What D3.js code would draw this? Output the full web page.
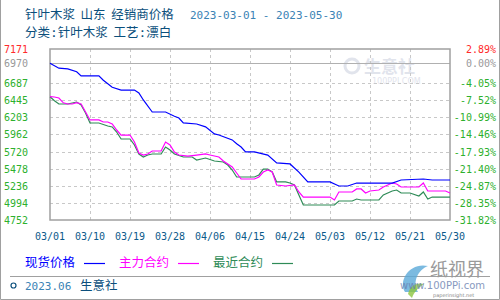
<!DOCTYPE html>
<html>
<head>
<meta charset="utf-8">
<script src="https://cdn.jsdelivr.net/npm/d3@7/dist/d3.min.js"></script>
<style>
  body { margin: 0; background: #fff; }
  svg { display: block; }
  text { white-space: pre; }
</style>
</head>
<body>
<div id="chart"></div>
<script>
// ---- data ----
const startDate = '2023-03-01';
const endDate = '2023-05-30';

const xTickLabels = ['03/01', '03/10', '03/19', '03/28', '04/06', '04/15', '04/24', '05/03', '05/12', '05/21', '05/30'];
const leftTicks = [4752, 4994, 5236, 5478, 5720, 5962, 6203, 6445, 6687, 6970, 7171];
const rightTickLabels = ['-31.82%', '-28.35%', '-24.87%', '-21.40%', '-17.93%', '-14.46%', '-10.99%', '-7.52%', '-4.05%', '0.00%', '2.89%'];

// 现货价格
const spotDates = ['03-01', '03-03', '03-05', '03-07', '03-08', '03-12', '03-13', '03-15', '03-17', '03-20',
  '03-21', '03-22', '03-24', '03-27', '03-29', '03-30', '03-31', '04-03', '04-05', '04-07', '04-08', '04-11',
  '04-12', '04-13', '04-14', '04-16', '04-19', '04-21', '04-24', '04-26', '04-28', '05-03', '05-05', '05-07',
  '05-09', '05-17', '05-19', '05-24', '05-26', '05-30'];
const spotValues = [6970, 6900, 6890, 6850, 6790, 6790, 6730, 6630, 6590, 6590,
  6550, 6450, 6280, 6280, 6220, 6195, 6125, 6110, 6070, 5970, 5955, 5885,
  5830, 5785, 5715, 5715, 5670, 5560, 5545, 5430, 5290, 5290, 5233, 5233,
  5275, 5275, 5318, 5332, 5318, 5318];

// 主力合约
const mainDates = ['03-01', '03-02', '03-03', '03-04', '03-05', '03-06', '03-07', '03-08', '03-09', '03-10',
  '03-12', '03-13', '03-14', '03-15', '03-16', '03-17', '03-19', '03-20', '03-21', '03-22', '03-23', '03-24',
  '03-26', '03-27', '03-28', '03-29', '03-30', '04-01', '04-03', '04-05', '04-06', '04-08', '04-09', '04-11',
  '04-12', '04-13', '04-16', '04-17', '04-18', '04-19', '04-20', '04-21', '04-23', '04-25', '04-26', '04-27',
  '04-28', '05-03', '05-04', '05-05', '05-08', '05-09', '05-10', '05-11', '05-12', '05-14', '05-15', '05-16',
  '05-17', '05-18', '05-19', '05-23', '05-24', '05-25', '05-29', '05-30'];
const mainValues = [6496, 6492, 6478, 6410, 6393, 6393, 6411, 6393, 6280, 6167,
  6167, 6138, 6138, 6110, 6025, 5954, 5954, 5855, 5700, 5671, 5686, 5728,
  5728, 5855, 5813, 5714, 5671, 5657, 5671, 5686, 5671, 5643, 5587, 5502,
  5417, 5332, 5332, 5360, 5431, 5459, 5431, 5247, 5233, 5247, 5148, 5077,
  5077, 5077, 5035, 5148, 5148, 5191, 5191, 5134, 5162, 5176, 5219, 5247,
  5275, 5261, 5219, 5219, 5275, 5162, 5162, 5134];

// 最近合约
const nearDates = ['03-01', '03-02', '03-03', '03-05', '03-06', '03-07', '03-08', '03-09', '03-10', '03-12',
  '03-14', '03-15', '03-16', '03-17', '03-19', '03-20', '03-21', '03-22', '03-23', '03-24', '03-26', '03-27',
  '03-28', '03-29', '03-31', '04-02', '04-03', '04-05', '04-07', '04-09', '04-10', '04-11', '04-12', '04-13',
  '04-16', '04-17', '04-18', '04-19', '04-20', '04-21', '04-23', '04-24', '04-25', '04-26', '04-27', '05-04',
  '05-05', '05-08', '05-09', '05-10', '05-14', '05-15', '05-17', '05-18', '05-19', '05-21', '05-23', '05-24',
  '05-25', '05-26', '05-30'];
const nearValues = [6496, 6440, 6393, 6393, 6407, 6421, 6379, 6266, 6124, 6124,
  6082, 6068, 5997, 5898, 5898, 5813, 5686, 5643, 5671, 5686, 5686, 5785,
  5742, 5686, 5643, 5643, 5601, 5629, 5587, 5573, 5530, 5459, 5360, 5360,
  5360, 5389, 5473, 5473, 5431, 5290, 5290, 5275, 5247, 5106, 4964, 4964,
  5021, 5021, 5049, 5035, 5035, 5106, 5162, 5176, 5134, 5134, 5092, 5148,
  5049, 5077, 5077];

// ---- layout ----
const width = 500, height = 300;
const plot = {left: 50, right: 450, top: 49, bottom: 220};
const monoFont = '"DejaVu Sans Mono", "Liberation Mono", monospace';
const cjkFont = '"Noto Sans CJK SC", sans-serif';

const parse = d3.timeParse('%Y-%m-%d');
const toPoints = (dates, values) => dates.map((d, i) => ({date: parse('2023-' + d), value: values[i]}));

const series = [
  {name: '现货价格', color: '#0000ff', data: toPoints(spotDates, spotValues)},
  {name: '主力合约', color: '#ff00ff', data: toPoints(mainDates, mainValues)},
  {name: '最近合约', color: '#2e8b57', data: toPoints(nearDates, nearValues)}
];

const x = d3.scaleTime()
  .domain([parse(startDate), parse(endDate)])
  .range([plot.left, plot.right]);
const y = d3.scaleLinear()
  .domain([leftTicks[0], leftTicks[leftTicks.length - 1]])
  .range([plot.bottom, plot.top]);

const svg = d3.select('#chart').append('svg')
  .attr('width', width)
  .attr('height', height);

// outer frame
svg.append('path')
  .attr('d', `M0.5,0 V${height - 0.5} H${width - 0.5} V0`)
  .attr('fill', 'none')
  .attr('stroke', '#a0a0a0');

// title
svg.append('text')
  .attr('x', 25).attr('y', 19)
  .attr('font-family', cjkFont).attr('font-size', 12.5)
  .attr('fill', '#0b4f7c')
  .text('针叶木浆  山东  经销商价格');
svg.append('text')
  .attr('x', 190).attr('y', 19)
  .attr('font-family', monoFont).attr('font-size', 11)
  .attr('fill', '#3b83b5')
  .text('2023-03-01 - 2023-05-30');

// subtitle, colons in mono font to keep the wider spacing
const sub = svg.append('text')
  .attr('x', 25).attr('y', 37)
  .attr('font-family', cjkFont).attr('font-size', 12.5)
  .attr('fill', '#0b4f7c');
[['分类', false], [':', true], ['针叶木浆  工艺', false], [':', true], ['漂白', false]].forEach(([t, mono]) => {
  const s = sub.append('tspan').text(t);
  if (mono) s.attr('font-family', monoFont).attr('font-size', 13);
});

// watermark
const wm = svg.append('g').attr('opacity', 0.55);
wm.append('circle').attr('cx', 352).attr('cy', 66).attr('r', 7)
  .attr('fill', 'none').attr('stroke', '#c9cede').attr('stroke-width', 3);
wm.append('text')
  .attr('x', 364).attr('y', 73)
  .attr('font-family', cjkFont).attr('font-size', 17).attr('font-weight', 'bold')
  .attr('fill', '#c9cede')
  .text('生意社');
wm.append('text')
  .attr('x', 372).attr('y', 84)
  .attr('font-family', '"DejaVu Sans", sans-serif').attr('font-size', 8)
  .attr('fill', '#c9cede')
  .text('100PPI.COM');

// gridlines
const xTickDates = xTickLabels.map(l => parse('2023-' + l.replace('/', '-')));
svg.append('g')
  .selectAll('line')
  .data(xTickDates.slice(1, -1))
  .join('line')
  .attr('x1', d => Math.round(x(d)) + 0.5).attr('x2', d => Math.round(x(d)) + 0.5)
  .attr('y1', plot.top).attr('y2', plot.bottom)
  .attr('stroke', '#c8c8c8').attr('stroke-dasharray', '3,3');

svg.append('g')
  .selectAll('line')
  .data(leftTicks.slice(1, -1))
  .join('line')
  .attr('x1', plot.left).attr('x2', plot.right)
  .attr('y1', d => Math.round(y(d)) + 0.5).attr('y2', d => Math.round(y(d)) + 0.5)
  .attr('stroke', d => d === 6970 ? '#b0b0b0' : '#c8c8c8')
  .attr('stroke-dasharray', d => d === 6970 ? null : '3,3');

// plot frame
svg.append('rect')
  .attr('x', plot.left).attr('y', plot.top)
  .attr('width', plot.right - plot.left).attr('height', plot.bottom - plot.top)
  .attr('fill', 'none').attr('stroke', '#a0a0a0').attr('stroke-width', 1.5);

// axes labels
const tickColor = v => v === 7171 ? '#ff2a2a' : (v === 6970 ? '#999999' : '#2db02d');

svg.append('g')
  .selectAll('text')
  .data(leftTicks)
  .join('text')
  .attr('x', 28).attr('y', d => y(d) + 4)
  .attr('text-anchor', 'end')
  .attr('font-family', monoFont).attr('font-size', 10)
  .attr('fill', d => tickColor(d))
  .text(d => d);

svg.append('g')
  .selectAll('text')
  .data(leftTicks)
  .join('text')
  .attr('x', 496).attr('y', d => y(d) + 4)
  .attr('text-anchor', 'end')
  .attr('font-family', monoFont).attr('font-size', 10)
  .attr('fill', d => tickColor(d))
  .text((d, i) => rightTickLabels[i]);

svg.append('g')
  .selectAll('text')
  .data(xTickDates)
  .join('text')
  .attr('x', d => x(d)).attr('y', 240)
  .attr('text-anchor', 'middle')
  .attr('font-family', monoFont).attr('font-size', 10)
  .attr('fill', '#0b5a8a')
  .text((d, i) => xTickLabels[i]);

// lines
const line = d3.line()
  .x(d => x(d.date))
  .y(d => y(d.value));

svg.append('g')
  .selectAll('path')
  .data(series.slice().reverse())
  .join('path')
  .attr('d', d => line(d.data))
  .attr('fill', 'none')
  .attr('stroke', d => d.color)
  .attr('stroke-width', 1.2);

// legend
const legendX = [25, 119, 213];
const legend = svg.append('g')
  .selectAll('g')
  .data(series)
  .join('g')
  .attr('transform', (d, i) => `translate(${legendX[i]}, 0)`);
legend.append('text')
  .attr('x', 0).attr('y', 267)
  .attr('font-family', cjkFont).attr('font-size', 12.5)
  .attr('fill', d => d.color)
  .text(d => d.name);
legend.append('line')
  .attr('x1', 59).attr('x2', 80)
  .attr('y1', 263.5).attr('y2', 263.5)
  .attr('stroke', d => d.color).attr('stroke-width', 1.2);

// footer
svg.append('line')
  .attr('x1', 10).attr('x2', 490)
  .attr('y1', 276.5).attr('y2', 276.5)
  .attr('stroke', '#a0a0a0');
svg.append('circle')
  .attr('cx', 13.5).attr('cy', 285.5).attr('r', 2.5)
  .attr('fill', 'none').attr('stroke', '#0b4f7c').attr('stroke-width', 1.2);
svg.append('text')
  .attr('x', 25).attr('y', 290)
  .attr('font-family', monoFont).attr('font-size', 11)
  .attr('fill', '#3b83b5')
  .text('2023.06');
svg.append('text')
  .attr('x', 80).attr('y', 290)
  .attr('font-family', cjkFont).attr('font-size', 12.5)
  .attr('fill', '#0b4f7c')
  .text('生意社');

// bottom-right logo
const logo = svg.append('g');
logo.append('path')
  .attr('d', 'M405,292 C398,280 410,262 428,266 C418,270 412,282 418,292 Z')
  .attr('fill', '#5aa9d8').attr('opacity', 0.8);
logo.append('path')
  .attr('d', 'M408,294 C410,286 416,282 424,284 C418,288 414,292 412,298 Z')
  .attr('fill', '#8cc63f').attr('opacity', 0.8);
logo.append('text')
  .attr('x', 430).attr('y', 276)
  .attr('font-family', cjkFont).attr('font-size', 18)
  .attr('fill', '#9a9a9a')
  .text('纸视界');
logo.append('text')
  .attr('x', 400).attr('y', 289)
  .attr('font-family', '"DejaVu Sans", sans-serif').attr('font-size', 10)
  .attr('fill', '#6a7fb0').attr('opacity', 0.8)
  .text('www.100PPi.com');
logo.append('text')
  .attr('x', 433).attr('y', 297)
  .attr('font-family', '"DejaVu Sans", sans-serif').attr('font-size', 5)
  .attr('fill', '#888')
  .text('paperinsight.net');
</script>
</body>
</html>
